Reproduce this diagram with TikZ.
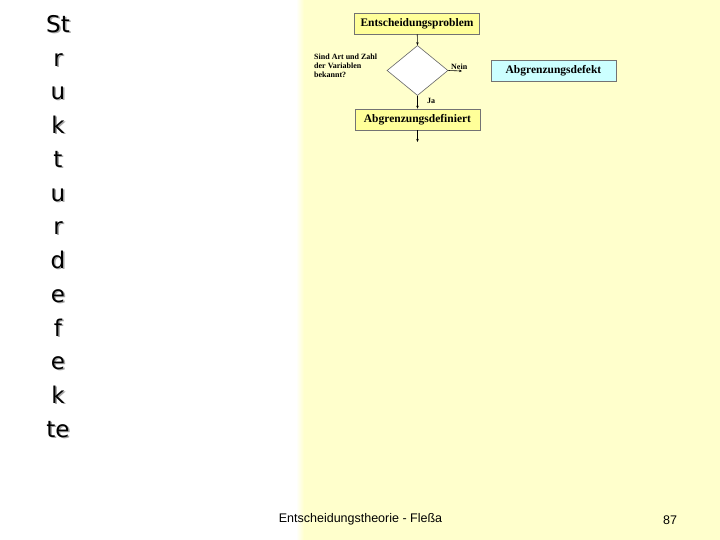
\documentclass[tikz,border=0pt]{standalone}
\usepackage{fontspec}
\setmainfont{Liberation Serif}
\newfontfamily\tahoma{DejaVu Sans}
\newfontfamily\arialf{Liberation Sans}
\usetikzlibrary{shapes.geometric,arrows.meta}
\definecolor{bgyellow}{HTML}{FFFFCC}
\definecolor{boxyellow}{HTML}{FFFF99}
\definecolor{boxcyan}{HTML}{CCFFFF}
\tikzset{
  flowbox/.style={draw=black!55, line width=0.6pt, fill=boxyellow, minimum width=125pt, minimum height=21pt, inner sep=0pt, font=\bfseries\fontsize{11.5}{12}\selectfont},
  conn/.style={-{Stealth[length=3pt,width=2.5pt]}, line width=0.6pt},
  small/.style={font=\bfseries\fontsize{8}{9}\selectfont, inner sep=0pt},
  vert/.style={font=\tahoma\fontsize{23}{33.75}\selectfont, align=center, inner sep=0pt, anchor=north}
}
\begin{document}
\begin{tikzpicture}[x=1pt,y=-1pt]
\useasboundingbox (0,0) rectangle (720,540);
\fill[white] (0,0) rectangle (720,540);
\shade[left color=white, right color=bgyellow] (296,0) rectangle (304,540);
\fill[bgyellow] (304,0) rectangle (720,540);
% vertical title with shadow
\node[vert, text=black!35] (titleshadow) at (59.5,16) {St\\r\\u\\k\\t\\u\\r\\d\\e\\f\\e\\k\\te};
\node[vert] (title) at (58,15) {St\\r\\u\\k\\t\\u\\r\\d\\e\\f\\e\\k\\te};
% flowchart
\node[flowbox] (prob) at (417,23.5) {Entscheidungsproblem};
\node[draw=black!60, line width=0.6pt, fill=white, diamond, minimum width=61pt, minimum height=50pt, inner sep=0pt, aspect=1.25] (dec) at (417.5,70.5) {};
\node[flowbox] (def) at (417.5,119.5) {Abgrenzungsdefiniert};
\node[flowbox, fill=boxcyan] (defekt) at (553.5,70.5) {Abgrenzungsdefekt};
\node[small, align=left, anchor=north west] (question) at (314,54) {Sind Art und Zahl\\der Variablen\\bekannt?};
\coordinate (neinend) at (462,71);
\coordinate (outend) at (417.5,142);
\draw[conn] (prob) -- (dec.north);
\draw[conn] (dec.south) -- (def.north);
\draw[conn] (dec.east) -- (neinend);
\draw[conn] (def.south) -- (outend);
\node[small, anchor=base west] (nein) at (451,70) {Nein};
\node[small, anchor=base west] (ja) at (427,104) {Ja};
% footer
\node[font=\arialf\fontsize{12.5}{14}\selectfont, inner sep=0pt] (footer) at (360.5,519.5) {Entscheidungstheorie - Fleßa};
\node[font=\arialf\fontsize{12.5}{14}\selectfont, inner sep=0pt] (page) at (670,520) {87};
\end{tikzpicture}
\end{document}
